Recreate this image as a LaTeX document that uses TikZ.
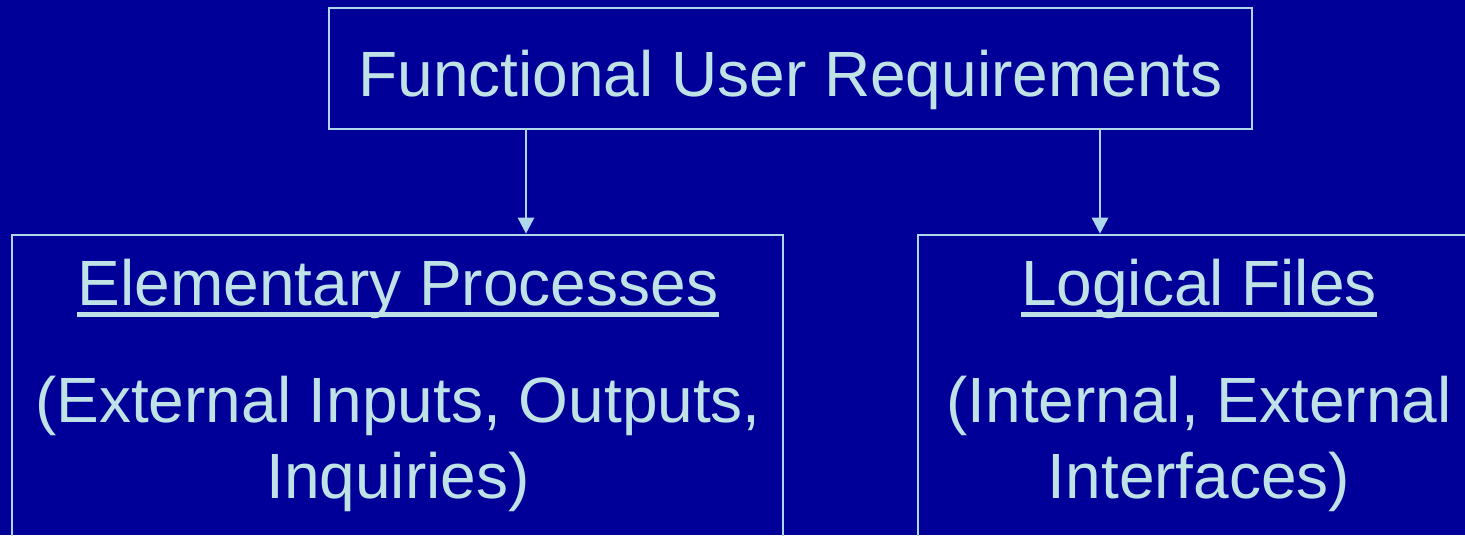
\documentclass[tikz,border=0pt]{standalone}
\usepackage{fontspec}
\setmainfont{Liberation Sans}
\usetikzlibrary{arrows.meta}
\definecolor{bg}{RGB}{0,0,153}
\definecolor{fg}{RGB}{190,226,230}
\definecolor{ln}{RGB}{175,215,235}
\tikzset{
  boxline/.style={draw=ln, line width=1.3pt},
  txt/.style={text=fg, font=\fontsize{32}{38}\selectfont, inner sep=0pt, anchor=base},
  conn/.style={draw=ln, line width=1.3pt, -{Triangle[width=8pt,length=8pt]}},
  uline/.style={draw=fg, line width=2.3pt}
}
\begin{document}
\begin{tikzpicture}[x=0.5pt,y=-0.5pt]
\useasboundingbox (0,0) rectangle (1465,535);
\fill[bg] (0,0) rectangle (1465,535);
\clip (0,0) rectangle (1465,535);
% boxes
\node[boxline, minimum width=461.5pt, minimum height=60.5pt, inner sep=0pt] (top) at (790.5,68.5) {};
\node[boxline, minimum width=385.5pt, minimum height=200pt, inner sep=0pt] (left) at (397.5,435) {};
\node[boxline, minimum width=385.5pt, minimum height=200pt, inner sep=0pt] (right) at (1303.5,435) {};
% texts
\node[txt] (ttop) at (790.5,97) {Functional User Requirements};
\node[txt] (l1) at (398,305) {Elementary Processes};
\node[txt] (l2) at (398,422) {(External Inputs, Outputs,};
\node[txt] (l3) at (398,498) {Inquiries)};
\node[txt] (r1) at (1199,305) {Logical Files};
\node[txt] (r2) at (1199,422) {(Internal, External};
\node[txt] (r3) at (1199,498) {Interfaces)};
% underlines
\draw[uline] ([yshift=-4.7pt]l1.base west) -- ([yshift=-4.7pt]l1.base east);
\draw[uline] ([yshift=-4.7pt]r1.base west) -- ([yshift=-4.7pt]r1.base east);
% connectors
\coordinate (a1) at (526,129);
\coordinate (a2) at (1100,129);
\draw[conn] (a1) -- (a1 |- left.north);
\draw[conn] (a2) -- (a2 |- right.north);
\end{tikzpicture}
\end{document}
